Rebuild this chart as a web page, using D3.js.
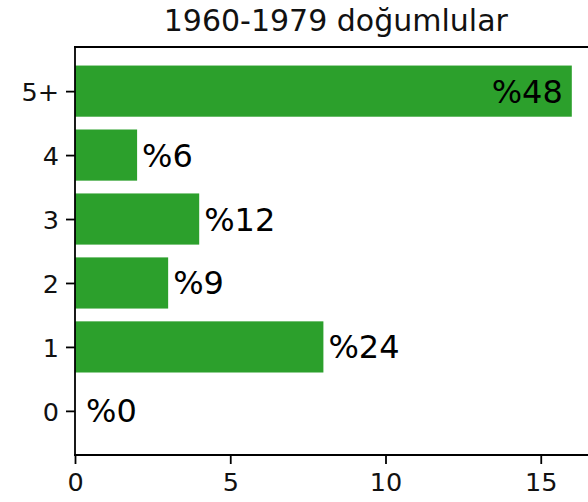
<!DOCTYPE html>
<html>
<head>
<meta charset="utf-8">
<script src="https://cdn.jsdelivr.net/npm/d3@7"></script>
<style>
  html, body { margin: 0; padding: 0; background: #fff; }
  svg { display: block; font-family: "DejaVu Sans", sans-serif; }
</style>
</head>
<body>
<svg id="chart" width="588" height="502"></svg>
<script>
const title = "1960-1979 doğumlular";
const categories = ["0", "1", "2", "3", "4", "5+"];
const counts = [0, 8, 3, 4, 2, 16];
const percentLabels = ["%0", "%24", "%9", "%12", "%6", "%48"];
const xTicks = [0, 5, 10, 15];

(function () {
const svg = d3.select("#chart");
const axLeft = 75, axTop = 47, axBottom = 455;
const pxPerUnit = 31.05;
const xMax = 16.8;

const x = d3.scaleLinear().domain([0, xMax]).range([axLeft, axLeft + xMax * pxPerUnit]);
const y = d3.scaleLinear().domain([-0.69, 5.69]).range([axBottom, axTop]);
const unitH = (axBottom - axTop) / 6.38;
const barH = 0.8 * unitH;
const green = "#2ca02c";

const data = categories.map((c, i) => ({ c, i, v: counts[i], label: percentLabels[i] }));

// bars
svg.append("g").selectAll("rect").data(data).join("rect")
  .attr("x", x(0))
  .attr("y", d => y(d.i) - barH / 2)
  .attr("width", d => x(d.v) - x(0))
  .attr("height", barH)
  .attr("fill", green);

// value labels
const labelSize = 32;
const plotRight = 588;
svg.append("g").selectAll("text").data(data).join("text")
  .attr("font-size", labelSize)
  .attr("fill", "#000")
  .attr("dy", "0.36em")
  .attr("y", d => y(d.i))
  .each(function(d) {
    const t = d3.select(this).text(d.label);
    const w = this.getComputedTextLength();
    if (x(d.v) + 6 + w > plotRight) {
      t.attr("x", x(d.v) - 9).attr("text-anchor", "end");
    } else {
      t.attr("x", x(d.v) + (d.v === 0 ? 11 : 5)).attr("text-anchor", "start");
    }
  });

// axes
const tickSize = 25.5;
const xAxis = d3.axisBottom(x).tickValues(xTicks).tickFormat(d3.format("d")).tickSize(9).tickPadding(8);
const gx = svg.append("g").attr("transform", `translate(0,${axBottom})`).call(xAxis);
gx.select(".domain").remove();
gx.selectAll(".tick line").attr("stroke", "#000").attr("stroke-width", 1.8);
gx.selectAll(".tick text").attr("font-size", tickSize).attr("fill", "#111")
  .attr("font-family", "DejaVu Sans").attr("dy", "0.74em");

const yAxis = d3.axisLeft(y).tickValues(data.map(d => d.i)).tickFormat(i => categories[i]).tickSize(9).tickPadding(7);
const gy = svg.append("g").attr("transform", `translate(${axLeft},0)`).call(yAxis);
gy.select(".domain").remove();
gy.selectAll(".tick line").attr("stroke", "#000").attr("stroke-width", 1.8);
gy.selectAll(".tick text").attr("font-size", tickSize).attr("fill", "#111")
  .attr("font-family", "DejaVu Sans").attr("dy", "0.36em");

// spines
const spineW = 1.8;
svg.append("line").attr("x1", axLeft).attr("x2", axLeft).attr("y1", axTop).attr("y2", axBottom)
  .attr("stroke", "#000").attr("stroke-width", spineW);
svg.append("line").attr("x1", axLeft - 1).attr("x2", 600).attr("y1", axBottom).attr("y2", axBottom)
  .attr("stroke", "#000").attr("stroke-width", spineW);
svg.append("line").attr("x1", axLeft - 1).attr("x2", 600).attr("y1", axTop).attr("y2", axTop)
  .attr("stroke", "#000").attr("stroke-width", spineW);

// title
svg.append("text")
  .attr("x", (axLeft + x(xMax)) / 2)
  .attr("y", 31)
  .attr("text-anchor", "middle")
  .attr("font-size", 30)
  .attr("fill", "#111")
  .text(title);
})();
</script>
</body>
</html>
